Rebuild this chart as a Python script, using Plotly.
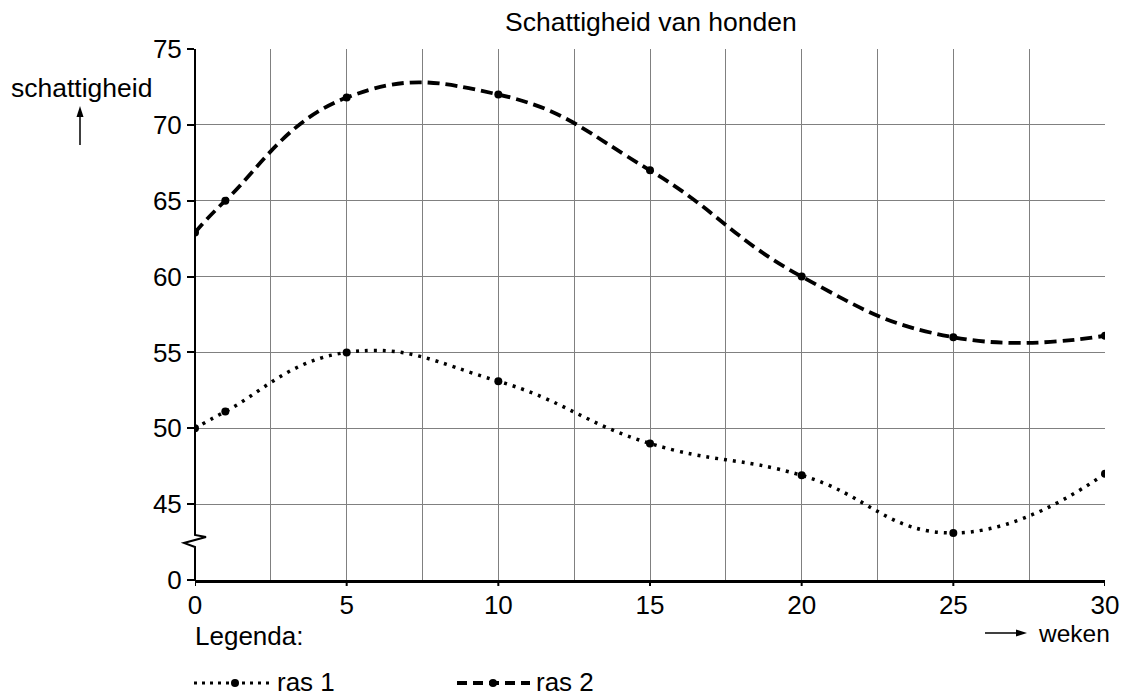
import plotly.graph_objects as go

weken = [0, 1, 5, 10, 15, 20, 25, 30]
ras1 = [50, 51.1, 55, 53.1, 49, 46.9, 43.1, 47]
ras2 = [62.9, 65, 71.8, 72, 67, 60, 56, 56.1]
y_tickvals = [40, 45, 50, 55, 60, 65, 70, 75]
y_ticktext = ["0", "45", "50", "55", "60", "65", "70", "75"]
x_tickvals = [0, 5, 10, 15, 20, 25, 30]
x_gridvals = [0, 2.5, 5, 7.5, 10, 12.5, 15, 17.5, 20, 22.5, 25, 27.5, 30]

FONT = "Liberation Sans, Arial, sans-serif"
FS = 26

# body margin is removed by post_script, so figure sits at (0, 0)
W, H = 1127, 696
# plot area in page pixels: x 195..1105, y 49..580
L = 195
T = 49
R = W - 1105
B = H - 580
pw, ph = W - L - R, H - T - B


def px(x):
    return (x - L) / pw


def py(y):
    return (H - B - y) / ph


fig = go.Figure()
fig.add_trace(go.Scatter(x=weken, y=ras1, mode="lines+markers", name="ras 1",
                         line=dict(color="black", width=3.5, dash="3px,6px", shape="spline", smoothing=1.3),
                         marker=dict(color="black", size=8)))
fig.add_trace(go.Scatter(x=weken, y=ras2, mode="lines+markers", name="ras 2",
                         line=dict(color="black", width=3.8, dash="12px,6px", shape="spline", smoothing=1.3),
                         marker=dict(color="black", size=8)))

shapes = []
# left axis with break (drawn in page pixels so it is not clipped)
shapes.append(dict(type="path", xref="paper", yref="paper",
                   path=(f"M{px(195)},{py(49)} L{px(195)},{py(535)} L{px(206)},{py(537)} "
                         f"L{px(184)},{py(543)} L{px(195)},{py(547)} L{px(195)},{py(581)}"),
                   line=dict(color="black", width=2)))
# legend samples
ly = py(683)
shapes.append(dict(type="line", xref="paper", yref="paper", x0=px(194), x1=px(270), y0=ly, y1=ly,
                   line=dict(color="black", width=3, dash="3px,5px")))
shapes.append(dict(type="line", xref="paper", yref="paper", x0=px(457), x1=px(530), y0=ly, y1=ly,
                   line=dict(color="black", width=3.8, dash="10px,6px")))
for cx in (235, 493):
    shapes.append(dict(type="circle", xref="paper", yref="paper", x0=px(cx - 4), x1=px(cx + 4),
                       y0=py(687), y1=py(679), fillcolor="black", line=dict(color="black", width=0)))
# arrows
shapes.append(dict(type="line", xref="paper", yref="paper", x0=px(80), x1=px(80), y0=py(145), y1=py(112),
                   line=dict(color="black", width=1.5)))
shapes.append(dict(type="line", xref="paper", yref="paper", x0=px(985), x1=px(1020), y0=py(633), y1=py(633),
                   line=dict(color="black", width=1.5)))
shapes.append(dict(type="path", xref="paper", yref="paper",
                   path=f"M{px(76.5)},{py(117)} L{px(80)},{py(106)} L{px(83.5)},{py(117)} Z",
                   fillcolor="black", line=dict(color="black", width=0)))
shapes.append(dict(type="path", xref="paper", yref="paper",
                   path=f"M{px(1016)},{py(629.5)} L{px(1027)},{py(633)} L{px(1016)},{py(636.5)} Z",
                   fillcolor="black", line=dict(color="black", width=0)))
# x tick marks below axis at labeled positions
for xv in x_tickvals:
    shapes.append(dict(type="line", xref="x", yref="paper", x0=xv, x1=xv, y0=0, y1=py(586),
                       line=dict(color="black", width=2)))


def ann(text, x, y, anchor="center", size=FS):
    return dict(text=text, xref="paper", yref="paper", x=px(x), y=py(y), showarrow=False,
                font=dict(size=size, color="black", family=FONT), xanchor=anchor, yanchor="middle")


annotations = [
    ann("Schattigheid van honden", 651, 22, size=26.5),
    ann("schattigheid", 81, 88, size=26.5),
    ann("weken", 1036, 633, "left", size=24.5),
    ann("Legenda:", 193, 636, "left"),
    ann("ras 1", 275, 682, "left"),
    ann("ras 2", 534, 682, "left"),
]

fig.update_layout(
    width=W, height=H, autosize=False,
    margin=dict(l=L, r=R, t=T, b=B, pad=0, autoexpand=False),
    paper_bgcolor="white", plot_bgcolor="white",
    showlegend=False,
    font=dict(family=FONT, color="black", size=FS),
    shapes=shapes, annotations=annotations,
    xaxis=dict(range=[0, 30], showgrid=True, gridcolor="#808080", gridwidth=1,
               tickvals=x_gridvals,
               ticktext=[str(v) if v in x_tickvals else "" for v in x_gridvals],
               ticks="", showline=True, linecolor="black", linewidth=2.5, zeroline=False,
               ticklabeloverflow="allow", automargin=False,
               tickfont=dict(size=FS), fixedrange=True),
    yaxis=dict(range=[40, 75], tickvals=y_tickvals, ticktext=y_ticktext, showgrid=True,
               gridcolor="#808080", gridwidth=1, ticks="outside", ticklen=7, tickwidth=2, tickcolor="black",
               showline=False, zeroline=False, automargin=False, tickfont=dict(size=FS), fixedrange=True),
)

fig.write_html("out.html", config={"displayModeBar": False},
               post_script="document.body.style.margin='0px';document.body.style.overflow='hidden';")
